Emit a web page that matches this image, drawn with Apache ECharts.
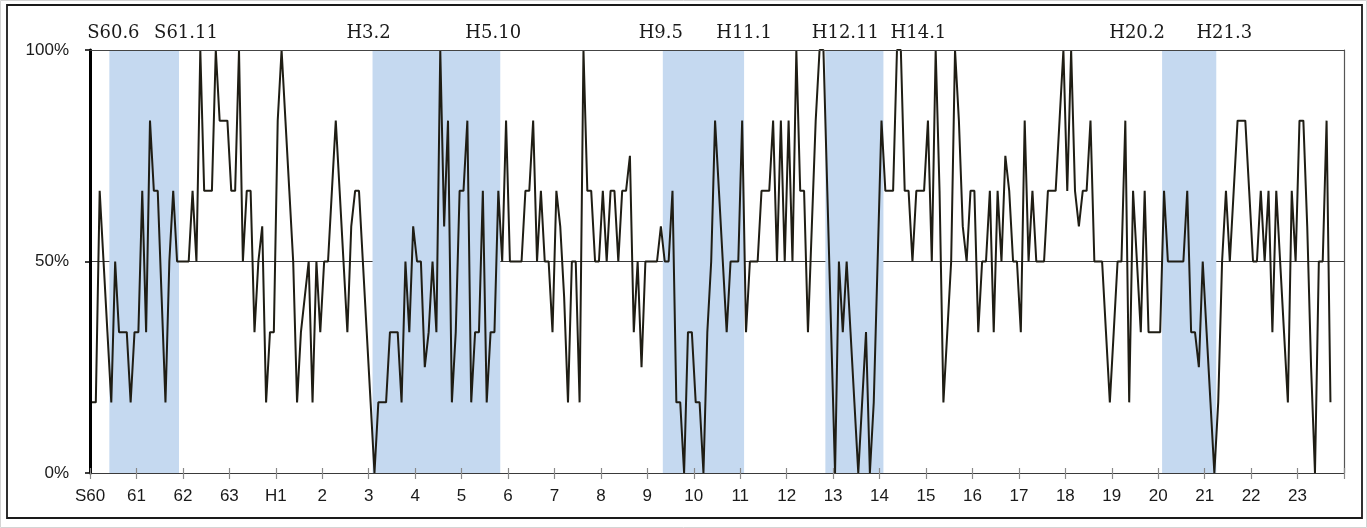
<!DOCTYPE html>
<html>
<head>
<meta charset="utf-8">
<script src="https://cdn.jsdelivr.net/npm/echarts@6/dist/echarts.min.js"></script>
<style>
  html, body { margin: 0; padding: 0; background: #ffffff; }
  #chart { width: 1367px; height: 528px; }
</style>
</head>
<body>
<div id="chart"></div>
<script>
// Year tick labels (one per January, S60 = 1985 ... H23 = 2011)
const yearLabels = ['S60','61','62','63','H1','2','3','4','5','6','7','8','9','10','11','12','13','14','15','16','17','18','19','20','21','22','23'];

// Monthly diffusion index (%) from S60.1 onward
const diValues = [
  16.7,16.7,66.7,50,33.3,16.7,50,33.3,33.3,33.3,16.7,33.3,
  33.3,66.7,33.3,83.3,66.7,66.7,41.7,16.7,50,66.7,50,50,
  50,50,66.7,50,100,66.7,66.7,66.7,100,83.3,83.3,83.3,
  66.7,66.7,100,50,66.7,66.7,33.3,50,58.3,16.7,33.3,33.3,
  83.3,100,83.3,66.7,50,16.7,33.3,41.7,50,16.7,50,33.3,
  50,50,66.7,83.3,66.7,50,33.3,58.3,66.7,66.7,50,33.3,
  16.7,0,16.7,16.7,16.7,33.3,33.3,33.3,16.7,50,33.3,58.3,
  50,50,25,33.3,50,33.3,100,58.3,83.3,16.7,33.3,66.7,
  66.7,83.3,16.7,33.3,33.3,66.7,16.7,33.3,33.3,66.7,50,83.3,
  50,50,50,50,66.7,66.7,83.3,50,66.7,50,50,33.3,
  66.7,58.3,41.7,16.7,50,50,16.7,100,66.7,66.7,50,50,
  66.7,50,66.7,66.7,50,66.7,66.7,75,33.3,50,25,50,
  50,50,50,58.3,50,50,66.7,16.7,16.7,0,33.3,33.3,
  16.7,16.7,0,33.3,50,83.3,66.7,50,33.3,50,50,50,
  83.3,33.3,50,50,50,66.7,66.7,66.7,83.3,50,83.3,50,
  83.3,50,100,66.7,66.7,33.3,58.3,83.3,100,100,66.7,33.3,
  0,50,33.3,50,33.3,16.7,0,16.7,33.3,0,16.7,50,
  83.3,66.7,66.7,66.7,100,100,66.7,66.7,50,66.7,66.7,66.7,
  83.3,50,100,66.7,16.7,33.3,50,100,83.3,58.3,50,66.7,
  66.7,33.3,50,50,66.7,33.3,66.7,50,75,66.7,50,50,
  33.3,83.3,50,66.7,50,50,50,66.7,66.7,66.7,83.3,100,
  66.7,100,66.7,58.3,66.7,66.7,83.3,50,50,50,33.3,16.7,
  33.3,50,50,83.3,16.7,66.7,50,33.3,66.7,33.3,33.3,33.3,
  33.3,66.7,50,50,50,50,50,66.7,33.3,33.3,25,50,
  33.3,16.7,0,16.7,50,66.7,50,66.7,83.3,83.3,83.3,66.7,
  50,50,66.7,50,66.7,33.3,66.7,50,33.3,16.7,66.7,50,
  83.3,83.3,58.3,25,0,50,50,83.3,16.7
];

// Recession periods (peak month, trough month)
const recessions = [
  ['S60.6','S61.11'],
  ['H3.2','H5.10'],
  ['H9.5','H11.1'],
  ['H12.11','H14.1'],
  ['H20.2','H21.3']
];

// horizontal nudges (px) for the boundary captions, styling only
const captionNudge = [4, 7, -4, -7, -2, 0, 20, 35, -25, 8];

function monthIndex(label) {
  const era = label[0];
  const parts = label.slice(1).split('.').map(Number);
  const base = era === 'S' ? (parts[0] - 60) * 12 : 48 + (parts[0] - 1) * 12;
  return base + parts[1] - 1;
}

const totalMonths = yearLabels.length * 12;
const lineData = diValues.map((v, i) => [i + 0.5, v]);

const areaData = recessions.map(r => [
  { xAxis: monthIndex(r[0]) },
  { xAxis: monthIndex(r[1]) + 1 }
]);

const chart = echarts.init(document.getElementById('chart'), null, { renderer: 'canvas' });

const sansFont = 'Liberation Sans';

const frameRects = [
  { type: 'rect', z: 0, shape: { x: 0.5, y: 0.5, width: 1366, height: 527 }, style: { fill: 'none', stroke: '#d4d4d4', lineWidth: 1 } },
  { type: 'rect', z: 0, shape: { x: 7, y: 5, width: 1355, height: 513 }, style: { fill: 'none', stroke: '#1a1a1a', lineWidth: 1.8 } }
];

chart.setOption({
  animation: false,
  backgroundColor: '#ffffff',
  grid: { left: 90, right: 23, top: 50, bottom: 55, containLabel: false },
  xAxis: [
    {
      type: 'value', min: 0, max: totalMonths, interval: 12, position: 'bottom', z: 5,
      axisLine: { show: true, onZero: false, lineStyle: { color: '#3a3a3a', width: 1.2 } },
      axisTick: { show: true, inside: false, length: 6, lineStyle: { color: '#8a8a8a', width: 1.2 } },
      axisLabel: {
        show: true, margin: 15, color: '#1a1a1a', fontFamily: sansFont, fontSize: 17,
        formatter: function (v) { const k = Math.round(v / 12); return k < yearLabels.length ? yearLabels[k] : ''; }
      },
      splitLine: { show: false }
    },
    {
      type: 'value', min: 0, max: totalMonths, interval: 12, position: 'bottom', z: 5,
      axisLine: { show: false, onZero: false },
      axisTick: { show: true, inside: true, length: 5, lineStyle: { color: '#8a8a8a', width: 1.2 } },
      axisLabel: { show: false },
      splitLine: { show: false }
    },
    {
      type: 'value', min: 0, max: totalMonths, position: 'top', z: 5,
      axisLine: { show: true, onZero: false, lineStyle: { color: '#444444', width: 1.2 } },
      axisTick: { show: false },
      axisLabel: { show: false },
      splitLine: { show: false }
    }
  ],
  yAxis: [
    {
      type: 'value', min: 0, max: 100, interval: 50, position: 'left',
      axisLine: { show: true, onZero: false, lineStyle: { color: '#000000', width: 3 } },
      axisTick: { show: true, inside: false, length: 5, lineStyle: { color: '#000000', width: 1.5 } },
      axisLabel: { show: true, margin: 21, color: '#1a1a1a', fontFamily: sansFont, fontSize: 17, formatter: '{value}%' },
      splitLine: { show: true, lineStyle: { color: '#3a3a3a', width: 1.2 } }
    },
    {
      type: 'value', min: 0, max: 100, position: 'right', z: 5,
      axisLine: { show: true, onZero: false, lineStyle: { color: '#555555', width: 1.2 } },
      axisTick: { show: false },
      axisLabel: { show: false },
      splitLine: { show: false }
    }
  ],
  graphic: frameRects,
  series: [
    {
      type: 'line',
      xAxisIndex: 0, yAxisIndex: 0,
      data: lineData,
      showSymbol: false,
      symbol: 'none',
      lineStyle: { color: '#1f1d14', width: 2 },
      z: 3,
      markArea: {
        silent: true,
        itemStyle: { color: '#c5d9f0', opacity: 1 },
        data: areaData
      }
    }
  ]
});

// Boundary captions placed from the data scale (plus small nudges)
const captions = [];
recessions.forEach((r, k) => {
  const pairs = [[r[0], monthIndex(r[0])], [r[1], monthIndex(r[1]) + 1]];
  pairs.forEach((p, j) => {
    const pt = chart.convertToPixel({ xAxisIndex: 0, yAxisIndex: 0 }, [p[1], 100]);
    captions.push({
      type: 'text', z: 10,
      x: pt[0] + captionNudge[2 * k + j], y: pt[1] - 17,
      style: {
        text: p[0], fill: '#1a1a1a', font: '18px "DejaVu Serif"',
        textAlign: 'center', textVerticalAlign: 'middle'
      }
    });
  });
});
chart.setOption({ graphic: captions.concat(frameRects) }, { replaceMerge: ['graphic'] });
</script>
</body>
</html>
